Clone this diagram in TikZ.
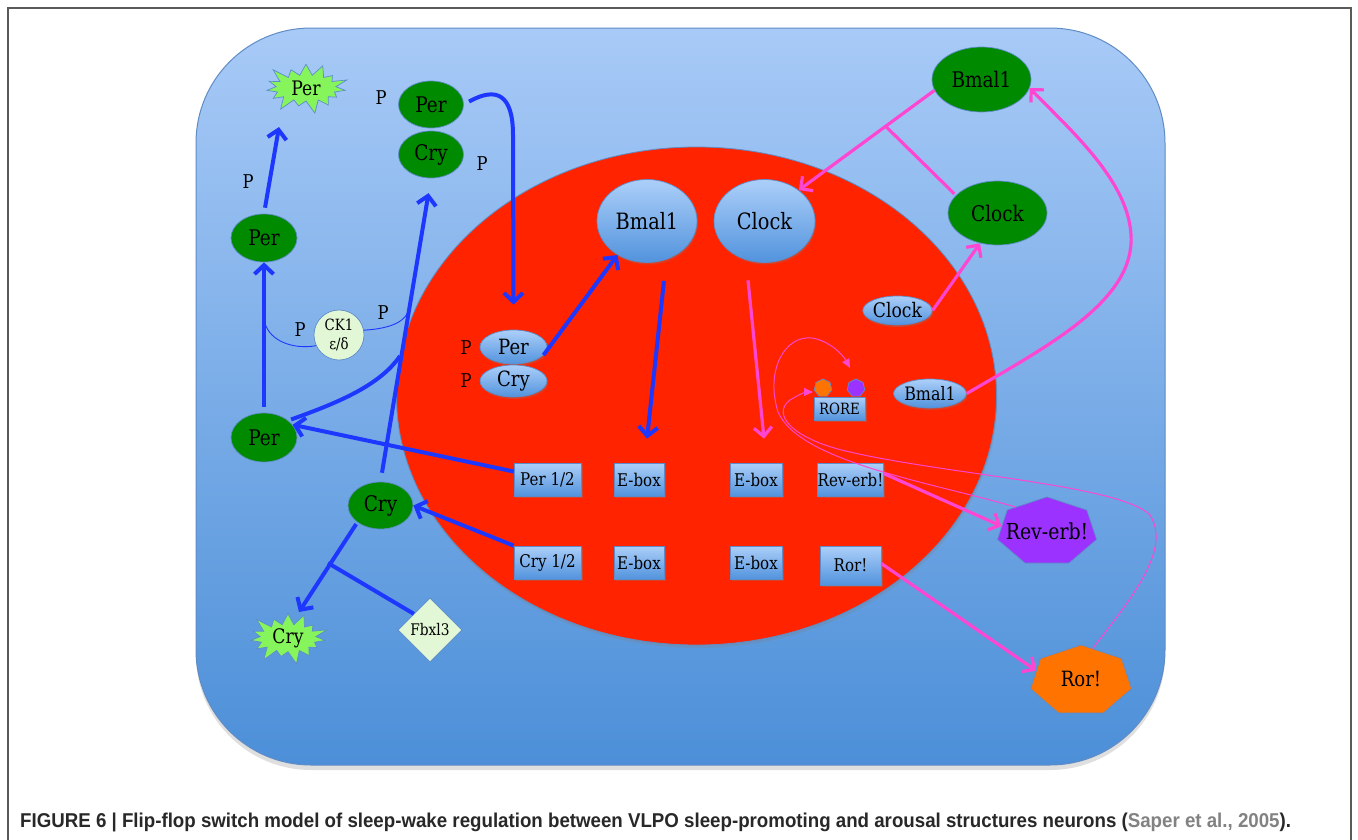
\documentclass[tikz,border=0pt]{standalone}
\usepackage{fontspec}
\setmainfont[FakeStretch=0.86]{DejaVu Serif}
\newfontfamily\capfont[FakeStretch=0.935]{Liberation Sans}
\usetikzlibrary{shapes,shapes.geometric,shapes.symbols,arrows.meta,shadows,calc,positioning}
\definecolor{cellTop}{RGB}{168,202,247}
\definecolor{cellBot}{RGB}{76,143,216}
\definecolor{cellEdge}{RGB}{96,140,196}
\definecolor{nucRed}{RGB}{255,35,0}
\definecolor{geneGreen}{RGB}{0,138,0}
\definecolor{edgeBlue}{RGB}{95,140,200}
\definecolor{protTop}{RGB}{172,207,249}
\definecolor{protBot}{RGB}{82,147,221}
\definecolor{burstGreen}{RGB}{134,245,92}
\definecolor{paleGreen}{RGB}{226,247,214}
\definecolor{arrowBlue}{RGB}{30,55,255}
\definecolor{arrowPink}{RGB}{255,70,210}
\definecolor{revPurple}{RGB}{155,50,255}
\definecolor{rorOrange}{RGB}{255,115,0}
\definecolor{frameGray}{RGB}{90,90,90}
\definecolor{capDark}{RGB}{40,40,40}
\definecolor{capGray}{RGB}{130,130,130}
\begin{document}
\begin{tikzpicture}[x=1pt, y=-1pt,
  gene/.style={ellipse, fill=geneGreen, draw=edgeBlue, line width=0.7pt, inner sep=0pt, font=\fontsize{21.5}{25}\selectfont},
  prot/.style={ellipse, top color=protTop, bottom color=protBot, draw=edgeBlue, line width=0.7pt, inner sep=0pt,
    drop shadow={shadow xshift=1pt, shadow yshift=-2pt, opacity=0.3}},
  dna/.style={rectangle, top color=protTop, bottom color=protBot, draw=edgeBlue, line width=0.7pt, inner sep=0pt,
    minimum height=33pt, font=\fontsize{17.5}{20}\selectfont, drop shadow={shadow xshift=1.5pt, shadow yshift=-2pt, opacity=0.35}},
  burst/.style={starburst, starburst points=15, starburst point height=15pt, fill=burstGreen, draw=edgeBlue,
    line width=0.7pt, inner sep=0pt, font=\fontsize{20}{24}\selectfont},
  hepta/.style={regular polygon, regular polygon sides=7, draw=edgeBlue, line width=0.7pt, inner sep=0pt},
  plab/.style={font=\fontsize{19}{22}\selectfont, inner sep=0pt},
  barrow/.style={draw=arrowBlue, line width=4pt, -{Straight Barb[length=9pt,width=19pt]}},
  bline/.style={draw=arrowBlue, line width=4pt},
  thinb/.style={draw=arrowBlue, line width=0.9pt},
  parrow/.style={draw=arrowPink, line width=3.2pt, -{Straight Barb[length=9pt,width=18pt]}},
  pline/.style={draw=arrowPink, line width=3.2pt},
  thinp/.style={draw=arrowPink, line width=1pt, -{Triangle[length=9pt,width=8pt]}}
]
\useasboundingbox (0,0) rectangle (1358,839);
\fill[white] (0,0) rectangle (1358,839);
\draw[frameGray, line width=1.6pt] (8,860) -- (8,8) -- (1351,8) -- (1351,860);

\node[rectangle, rounded corners=115pt, minimum width=969pt, minimum height=737pt, top color=cellTop, bottom color=cellBot,
  draw=cellEdge, line width=1pt, drop shadow={shadow xshift=0pt, shadow yshift=-5pt, opacity=0.25}] (cell) at (680.5,396.5) {};
\node[ellipse, minimum width=600pt, minimum height=498pt, fill=nucRed, draw=cellEdge, line width=0.8pt,
  drop shadow={shadow xshift=1pt, shadow yshift=-3pt, opacity=0.25}] (nuc) at (696.5,396) {};

\node[burst, minimum width=90pt, minimum height=56pt] (perStar) at (306,88) {Per};
\node[gene, minimum width=66pt, minimum height=48pt] (perUp) at (264,238) {Per};
\node[gene, minimum width=66pt, minimum height=49pt] (perLow) at (264,437.5) {Per};
\node[gene, minimum width=65pt, minimum height=47pt] (perCx) at (431,104.5) {Per};
\node[gene, minimum width=65pt, minimum height=47pt] (cryCx) at (431,154.5) {Cry};
\node[gene, minimum width=65pt, minimum height=47pt] (cryOut) at (380.5,505.5) {Cry};
\node[burst, minimum width=86pt, minimum height=54pt] (cryStar) at (288,638) {Cry};
\node[diamond, fill=paleGreen, draw=edgeBlue, line width=0.7pt, minimum width=64pt, minimum height=64pt, inner sep=0pt,
  font=\fontsize{16}{19}\selectfont] (fbxl) at (430,630) {Fbxl3};
\node[circle, fill=paleGreen, draw=edgeBlue, line width=0.7pt, minimum size=50pt, inner sep=0pt, align=center,
  font=\fontsize{15.5}{19}\selectfont] (ck) at (339,335) {CK1\\ε/δ};
\node[gene, minimum width=99pt, minimum height=65pt] (bmalOut) at (981.5,79.5) {Bmal1};
\node[gene, minimum width=99pt, minimum height=64pt] (clockOut) at (997.5,213) {Clock};
\node[hepta, fill=revPurple, minimum size=101.6pt, yscale=0.684, transform shape] (revHept) at (1047,531.7) {};
\node[font=\fontsize{22}{26}\selectfont] (revText) at (1047,531) {Rev-erb!};
\node[hepta, fill=rorOrange, minimum size=103.6pt, yscale=0.69, transform shape] (rorHept) at (1081,680.7) {};
\node[font=\fontsize{21}{25}\selectfont] (rorText) at (1081,679) {Ror!};

\node[prot, minimum width=100pt, minimum height=83pt, font=\fontsize{22.5}{26}\selectfont] (bmalIn) at (647,221) {Bmal1};
\node[prot, minimum width=101pt, minimum height=83pt, font=\fontsize{22.5}{26}\selectfont] (clockIn) at (764.5,221) {Clock};
\node[prot, minimum width=67pt, minimum height=34pt, font=\fontsize{21}{25}\selectfont] (perIn) at (513.5,347) {Per};
\node[prot, minimum width=67pt, minimum height=32pt, font=\fontsize{21}{25}\selectfont] (cryIn) at (513.5,381) {Cry};
\node[prot, minimum width=67pt, minimum height=29pt, font=\fontsize{20}{24}\selectfont] (clockSm) at (897.5,310.5) {Clock};
\node[prot, minimum width=67pt, minimum height=29pt, font=\fontsize{18.5}{22}\selectfont] (bmalSm) at (930,393.5) {Bmal1};
\node[dna, minimum width=51pt, minimum height=23pt, font=\fontsize{15.5}{18}\selectfont] (rore) at (839.5,408.5) {RORE};
\node[hepta, fill=rorOrange, minimum size=18pt] (siteOr) at (823,388) {};
\node[hepta, fill=revPurple, minimum size=18pt] (sitePu) at (856,388) {};

\node[dna, minimum width=67pt] (per12) at (547.5,479.5) {Per 1/2};
\node[dna, minimum width=50pt] (ebox1) at (639,479.5) {E-box};
\node[dna, minimum width=52pt] (ebox2) at (756,479.5) {E-box};
\node[dna, minimum width=61pt] (revBox) at (850.5,479.5) {Rev-erb!};
\node[dna, minimum width=67pt] (cry12) at (547.5,562.5) {Cry 1/2};
\node[dna, minimum width=50pt] (ebox3) at (639,562.5) {E-box};
\node[dna, minimum width=52pt] (ebox4) at (756,562.5) {E-box};
\node[dna, minimum width=61pt, minimum height=39pt] (rorBox) at (850.5,565.5) {Ror!};

\node[plab] (pA) at (381,98) {P};
\node[plab] (pB) at (482,164) {P};
\node[plab] (pC) at (248,182) {P};
\node[plab] (pD) at (300,330) {P};
\node[plab] (pE) at (383,313) {P};
\node[plab] (pF) at (466,348) {P};
\node[plab] (pG) at (466,381) {P};

\coordinate (tipPerStar) at (279,127);
\coordinate (tipCryStar) at (299,612);
\coordinate (cryBar) at (328,563);
\coordinate (ckL) at (264,318);
\coordinate (ckR) at (408,312);
\coordinate (cryJoin) at (400,356);
\coordinate (clkBar) at ($(bmalOut.193)!0.36!(clockIn.42)$);
\coordinate (tipPu) at (850,368);
\coordinate (tipOr) at (813,392);

\draw[barrow, shorten <=6pt] (perUp.north) -- (tipPerStar);
\draw[barrow, shorten <=6pt] (perLow) -- (perUp);
\draw[barrow, shorten <=9pt, shorten >=15pt] (cryOut.north) -- (cryCx.south);
\draw[barrow, shorten <=6pt] (perCx.east) .. controls (497,86) and (513,95) .. (513,135) -- ([yshift=25pt]perIn.north);
\draw[barrow] (perIn.-15) -- (bmalIn.229);
\draw[barrow] ([xshift=17pt,yshift=-18pt]bmalIn.south) -- ([xshift=8pt,yshift=24pt]ebox1.north);
\draw[barrow] ([yshift=8pt]per12.west) -- (perLow.24);
\draw[barrow] (cry12.north west) -- (cryOut.east);
\draw[barrow, shorten <=2pt] (cryOut.216) -- (tipCryStar);
\draw[bline] (fbxl.north west) -- (cryBar);
\draw[bline, shorten <=3pt] (perLow.35) .. controls (340,402) and (380,385) .. (cryJoin);
\draw[thinb] (ckL) .. controls (266,340) and (292,350) .. (ck.205);
\draw[thinb] (ck.11) .. controls (385,329) and (403,324) .. (ckR);

\draw[parrow] (bmalOut.193) -- (clockIn.42);
\draw[pline, shorten <=2pt] (clockOut.157) -- (clkBar);
\draw[parrow] (clockSm.east) -- (clockOut.240);
\draw[parrow] (bmalSm.east) .. controls (1050,345) and (1135,300) .. (1131,235) .. controls (1128,180) and (1070,130) .. (bmalOut.350);
\draw[parrow] ([xshift=-16.5pt,yshift=-17.5pt]clockIn.south) -- ([xshift=8pt,yshift=24pt]ebox2.north);
\draw[parrow] ([yshift=6pt]revBox.east) -- (revHept.170);
\draw[parrow] ([yshift=2pt]rorBox.east) -- (rorHept.162);
\draw[thinp] (revHept.131) .. controls (930,482) and (800,462) .. (778,412) .. controls (765,370) and (785,335) .. (812,338) .. controls (830,341) and (843,355) .. (tipPu);
\draw[thinp] (rorHept.76) .. controls (1130,600) and (1172,550) .. (1150,515) .. controls (1120,485) and (950,475) .. (850,452) .. controls (795,440) and (770,415) .. (790,400) .. controls (798,395) and (806,392) .. (tipOr);

\node[anchor=base west, inner sep=0pt, text=capDark, font=\capfont\bfseries\fontsize{20}{24}\selectfont] (caption) at (20,827)
  {FIGURE 6 | Flip-flop switch model of sleep-wake regulation between VLPO sleep-promoting and arousal structures neurons (\textcolor{capGray}{Saper et al., 2005}).};
\end{tikzpicture}
\end{document}
